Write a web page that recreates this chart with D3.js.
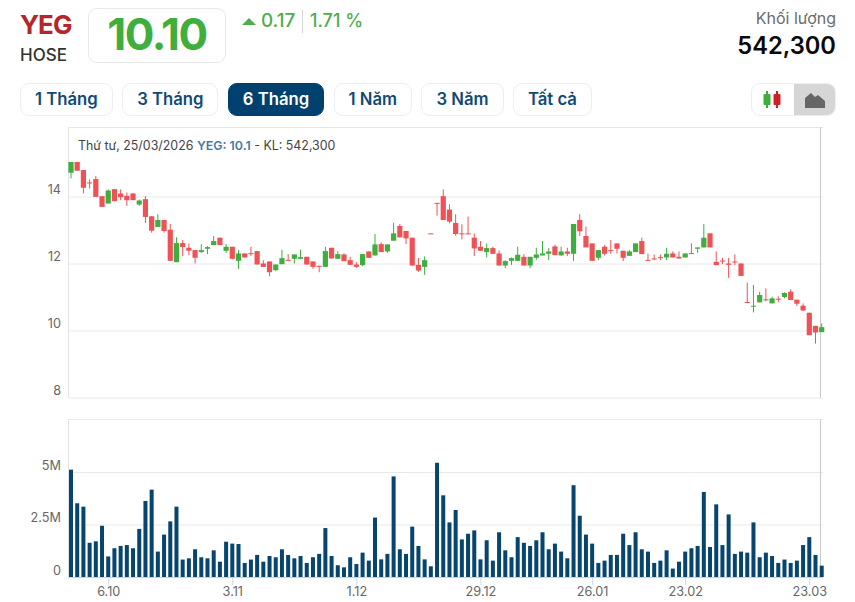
<!DOCTYPE html>
<html lang="vi">
<head>
<meta charset="utf-8">
<title>YEG</title>
<script src="https://cdn.jsdelivr.net/npm/d3@7"></script>
<style>
  html, body { margin: 0; padding: 0; background: #fff; }
  body { width: 855px; height: 602px; position: relative; overflow: hidden; font-family: Inter, "Noto Sans", sans-serif; }
  .abs { position: absolute; white-space: nowrap; line-height: 1; }
  #ticker { left: 20px; top: 12px; font-size: 26px; font-weight: 700; color: #b3262c; letter-spacing: -0.9px; }
  #exchange { left: 20px; top: 47px; font-size: 17px; font-weight: 500; color: #333; }
  #price-box { left: 88px; top: 8px; width: 136px; height: 53px; border: 1px solid #e6e8ec; border-radius: 9px; }
  #price { left: 88px; width: 138px; top: 12px; text-align: center; font-size: 44px; font-weight: 700; color: #3fae3c; letter-spacing: -1.4px; }
  #change { left: 261px; top: 12px; font-size: 18.8px; font-weight: 500; color: #4cae4c; }
  #percent { left: 310px; top: 12px; font-size: 18px; font-weight: 500; color: #4cae4c; }
  #divider { left: 302px; top: 10px; width: 1px; height: 23px; background: #d5d5d5; }
  #vol-title { right: 19px; top: 10px; font-size: 16px; color: #6b6b6b; }
  #vol-value { right: 19px; top: 34px; font-size: 23.7px; font-weight: 600; color: #0a0a0a; }
  #ranges { position: absolute; left: 20px; top: 83px; display: flex; gap: 9.4px; }
  .range { box-sizing: border-box; height: 33px; line-height: 31px; padding: 0 14px; border: 1px solid #eceef1; border-radius: 9px; font-size: 16.7px; font-weight: 600; color: #0f4a75; background: #fff; }
  .range.on { background: #00416f; border-color: #00416f; color: #fff; }
  #toggle { position: absolute; left: 751px; top: 83px; width: 85px; height: 33px; box-sizing: border-box; border: 1px solid #eceef1; border-radius: 9px; overflow: hidden; }
  #toggle div { position: absolute; left: 42px; top: 0; width: 43px; height: 33px; background: #d6d6d6; }
  svg#chart { position: absolute; left: 0; top: 0; }
  #info { left: 78px; top: 139.5px; font-size: 12.4px; color: #444; }
  #info b { font-weight: 600; color: #447aa8; }
</style>
</head>
<body>
<div class="abs" id="ticker">YEG</div>
<div class="abs" id="exchange">HOSE</div>
<div class="abs" id="price-box"></div>
<div class="abs" id="price">10.10</div>
<div class="abs" id="change">0.17</div>
<div class="abs" id="divider"></div>
<div class="abs" id="percent">1.71 %</div>
<div class="abs" id="vol-title">Khối lượng</div>
<div class="abs" id="vol-value">542,300</div>
<div id="ranges"></div>
<div id="toggle"><div></div></div>
<svg id="chart" width="855" height="602"></svg>
<div class="abs" id="info">Thứ tư, 25/03/2026 <b>YEG: 10.1</b> - KL: 542,300</div>

<script>
const rangeLabels = ['1 Tháng', '3 Tháng', '6 Tháng', '1 Năm', '3 Năm', 'Tất cả'];
const activeRange = '6 Tháng';

const priceTicks = [8, 10, 12, 14];
const volumeTicks = [0, 2.5, 5];
const volumeTickLabels = ['0', '2.5M', '5M'];

// vị trí phiên giao dịch của các nhãn ngày trên trục x
const dateTickIndex = [6, 26, 46, 66, 84, 99, 119];
const dateTickLabels = ['6.10', '3.11', '1.12', '29.12', '26.01', '23.02', '23.03'];

const opens = [
  14.71,15.03,14.79,14.42,14.52,14.01,13.79,14.22,14.09,14.02,
  14.09,13.76,13.92,13.41,13.09,13.30,13.01,12.04,12.61,12.47,
  12.40,12.34,12.44,12.55,12.77,12.38,12.50,12.08,12.30,12.31,
  12.37,12.00,12.06,11.80,11.98,12.11,12.14,12.14,12.20,12.06,
  11.93,11.90,12.47,12.14,12.27,12.10,11.97,11.95,12.36,12.24,
  12.58,12.36,12.68,13.12,12.97,12.77,11.96,11.90,12.90,13.81,
  14.01,13.61,13.21,12.90,12.90,12.77,12.50,12.34,12.46,12.30,
  11.94,12.08,12.08,12.20,11.94,12.17,12.24,12.29,12.51,12.24,
  12.36,12.29,13.30,12.82,12.60,12.17,12.50,12.40,12.60,12.38,
  12.23,12.34,12.67,12.11,12.15,12.19,12.18,12.30,12.20,12.18,
  12.31,12.44,12.48,12.90,12.05,12.09,12.00,12.06,12.00,10.85,
  10.71,10.84,10.93,10.81,10.95,11.00,11.16,10.92,10.74,10.53,
  10.14,9.95];
const highs = [
  15.03,15.03,14.79,14.51,14.61,14.01,14.21,14.22,14.21,14.12,
  14.11,13.91,14.01,13.41,13.47,13.30,13.18,12.78,12.70,12.60,
  12.40,12.58,12.52,12.82,12.77,12.58,12.50,12.40,12.30,12.50,
  12.38,12.10,12.06,11.97,12.41,12.28,12.27,12.41,12.20,12.06,
  11.94,12.50,12.47,12.37,12.30,12.20,12.04,12.28,12.36,12.88,
  12.63,12.57,13.22,13.18,12.97,12.77,12.16,12.21,12.90,13.81,
  14.21,13.77,13.47,13.17,13.40,12.90,12.67,12.60,12.50,12.39,
  12.10,12.18,12.50,12.28,12.20,12.47,12.67,12.46,12.56,12.50,
  12.47,13.18,13.47,13.10,12.60,12.40,12.55,12.70,12.60,12.38,
  12.40,12.60,12.77,12.30,12.27,12.27,12.47,12.36,12.36,12.30,
  12.60,12.48,13.18,12.90,12.36,12.17,12.17,12.27,12.00,11.43,
  11.36,11.16,11.26,11.01,11.02,11.14,11.23,10.92,10.81,10.53,
  10.14,10.21];
const lows = [
  14.54,14.77,14.09,14.24,13.99,13.69,13.79,13.86,13.89,13.72,
  13.89,13.72,13.21,12.92,13.09,12.92,12.08,12.04,12.22,12.25,
  12.00,12.32,12.28,12.55,12.55,12.32,12.12,11.84,12.18,12.22,
  11.97,11.90,11.62,11.77,11.98,12.07,12.00,12.14,11.97,11.84,
  11.74,11.90,12.15,12.14,12.07,11.96,11.87,11.92,12.17,12.24,
  12.34,12.32,12.68,12.78,12.58,11.94,11.75,11.66,12.88,13.43,
  13.30,13.20,12.83,12.72,12.87,12.22,12.38,12.18,12.29,11.94,
  11.86,11.96,12.08,11.94,11.86,12.11,12.24,12.10,12.25,12.24,
  12.22,12.08,12.82,12.48,12.08,12.10,12.24,12.29,12.30,12.07,
  12.23,12.34,12.28,12.08,12.10,12.10,12.10,12.18,12.15,12.18,
  12.28,12.32,12.48,12.48,11.95,11.98,11.57,11.95,11.63,10.83,
  10.54,10.84,10.87,10.81,10.84,10.96,10.91,10.73,10.58,9.86,
  9.61,9.95];
const closes = [
  15.03,14.77,14.26,14.39,13.99,13.69,14.18,13.86,13.98,13.89,
  13.89,13.88,13.39,12.98,13.30,12.97,12.08,12.61,12.49,12.38,
  12.17,12.40,12.49,12.67,12.55,12.50,12.14,12.30,12.18,12.29,
  11.97,11.90,11.74,11.97,12.16,12.08,12.27,12.19,11.97,11.90,
  11.91,12.37,12.15,12.28,12.07,11.96,11.90,12.28,12.17,12.57,
  12.34,12.57,12.90,12.78,12.75,11.94,11.79,12.10,12.88,13.78,
  13.30,13.25,12.88,12.87,12.87,12.45,12.38,12.46,12.29,11.94,
  12.07,12.16,12.26,11.94,12.20,12.27,12.30,12.36,12.25,12.36,
  12.29,13.18,12.96,12.48,12.08,12.40,12.29,12.38,12.44,12.17,
  12.36,12.60,12.28,12.09,12.13,12.16,12.29,12.18,12.15,12.30,
  12.29,12.48,12.77,12.48,11.95,12.07,11.96,12.04,11.63,10.83,
  10.74,11.06,10.90,10.96,10.92,11.12,10.91,10.80,10.60,9.86,
  9.94,10.10];
// khối lượng, triệu cổ phiếu
const volumes = [
  5.11,3.51,3.35,1.63,1.70,2.44,0.98,1.37,1.48,1.52,
  1.37,2.29,3.62,4.16,1.21,2.02,2.65,3.35,0.83,0.89,
  1.32,0.94,0.89,1.27,0.73,1.68,1.59,1.57,0.67,0.83,
  1.05,0.73,1.00,0.94,1.32,1.05,0.89,1.00,0.67,0.94,
  1.10,2.33,1.00,0.56,0.46,0.94,0.62,1.16,0.78,2.83,
  0.84,1.10,4.79,1.32,1.10,2.40,1.48,0.84,0.51,5.44,
  3.89,2.60,3.19,1.79,2.06,2.22,0.84,1.75,0.78,2.13,
  1.27,0.94,1.90,1.63,1.48,1.75,2.13,1.32,1.59,1.21,
  0.89,4.37,2.92,2.02,1.59,0.67,0.78,1.05,1.05,2.06,
  1.52,2.13,1.32,1.21,0.67,0.78,1.27,0.40,0.73,1.21,
  1.37,1.48,4.05,1.43,3.46,1.52,2.98,1.10,1.21,1.16,
  2.60,0.94,1.16,1.00,0.67,0.83,0.67,0.78,1.52,1.90,
  1.05,0.54];

const RED = '#ee5256', GREEN = '#3fae3f', NAVY = '#07456f';

d3.select('#ranges').selectAll('div').data(rangeLabels).join('div')
  .attr('class', (d) => (d === activeRange ? 'range on' : 'range'))
  .text((d) => d);

const svg = d3.select('#chart');

// khung biểu đồ
const left = 68, right = 820.5, plotEnd = 823;
const x = d3.scaleLinear().domain([0, closes.length - 1]).range([71, 821.7]);
const yPrice = d3.scaleLinear().domain([8, 16]).range([397.5, 129.5]);
const yVol = d3.scaleLinear().domain([0, 5]).range([577, 472]);
const volTop = 419.5, priceTop = 127.5;

// lưới + nhãn trục y
function yAxis(scale, ticks, labels, top) {
  const g = svg.append('g').attr('transform', `translate(${left},0)`)
    .call(d3.axisLeft(scale).tickValues(ticks).tickSize(left - plotEnd).tickPadding(7)
      .tickFormat(labels ? (d, i) => labels[i] : d3.format('d')));
  g.select('.domain').remove();
  g.selectAll('line').attr('stroke', '#e8e8e8');
  g.selectAll('text').attr('fill', '#666').attr('font-size', 12.7).attr('font-family', 'Inter').attr('dy', '-0.2em');
  svg.append('line').attr('x1', left).attr('x2', plotEnd).attr('y1', top).attr('y2', top).attr('stroke', '#e6e6e6');
  return g;
}
yAxis(yPrice, priceTicks, null, priceTop);
yAxis(yVol, volumeTicks, volumeTickLabels, volTop);

// đường viền trái / đường hiện tại bên phải
[[priceTop, yPrice(8)], [volTop, yVol(0)]].forEach(([y1, y2]) => {
  svg.append('line').attr('x1', left + 0.5).attr('x2', left + 0.5).attr('y1', y1).attr('y2', y2).attr('stroke', '#e0e4ea');
  svg.append('line').attr('x1', right).attr('x2', right).attr('y1', y1).attr('y2', y2).attr('stroke', '#c8c8c8');
});

// nến
const days = d3.range(closes.length);
const isUp = (i) => closes[i] >= opens[i];
svg.append('g').selectAll('line').data(days).join('line')
  .attr('x1', (i) => x(i)).attr('x2', (i) => x(i))
  .attr('y1', (i) => yPrice(highs[i])).attr('y2', (i) => yPrice(lows[i]))
  .attr('stroke', (i) => (isUp(i) ? GREEN : RED)).attr('stroke-width', 1);
svg.append('g').selectAll('rect').data(days).join('rect')
  .attr('x', (i) => x(i) - 2.6).attr('width', 5.2)
  .attr('y', (i) => yPrice(Math.max(opens[i], closes[i])))
  .attr('height', (i) => Math.max(1, Math.abs(yPrice(opens[i]) - yPrice(closes[i]))))
  .attr('fill', (i) => (isUp(i) ? GREEN : RED));

// cột khối lượng
svg.append('g').selectAll('rect').data(days).join('rect')
  .attr('x', (i) => x(i) - 2).attr('width', 4)
  .attr('y', (i) => yVol(volumes[i]))
  .attr('height', (i) => yVol(0) - yVol(volumes[i]))
  .attr('fill', NAVY);

// trục thời gian
const xg = svg.append('g').attr('transform', `translate(0,${yVol(0)})`)
  .call(d3.axisBottom(x).tickValues(dateTickIndex).tickSize(8).tickPadding(2)
    .tickFormat((d, i) => dateTickLabels[i]));
xg.select('.domain').remove();
xg.selectAll('line').attr('stroke', '#ccd6eb');
xg.selectAll('text').attr('fill', '#666').attr('font-size', 12.7).attr('font-family', 'Inter');
svg.append('line').attr('x1', left).attr('x2', plotEnd).attr('y1', yVol(0) + 0.5).attr('y2', yVol(0) + 0.5).attr('stroke', '#c6d3e8');

// mũi tên tăng
svg.append('path').attr('d', 'M242 25L249 18L256 25Z').attr('fill', '#4cae4c');

// nút chuyển kiểu biểu đồ
[[767, GREEN, 91, 108], [777, '#cf2027', 91, 108]].forEach(([cx, c, y1, y2]) => {
  svg.append('line').attr('x1', cx).attr('x2', cx).attr('y1', y1).attr('y2', y2).attr('stroke', c).attr('stroke-width', 2);
  svg.append('rect').attr('x', cx - 3.5).attr('width', 7).attr('y', y1 + 3).attr('height', y2 - y1 - 6).attr('rx', 1).attr('fill', c);
});
svg.append('path').attr('d', 'M805 108V98L811 93L815 97L818 95L825 101V108Z').attr('fill', '#666');
</script>
</body>
</html>
